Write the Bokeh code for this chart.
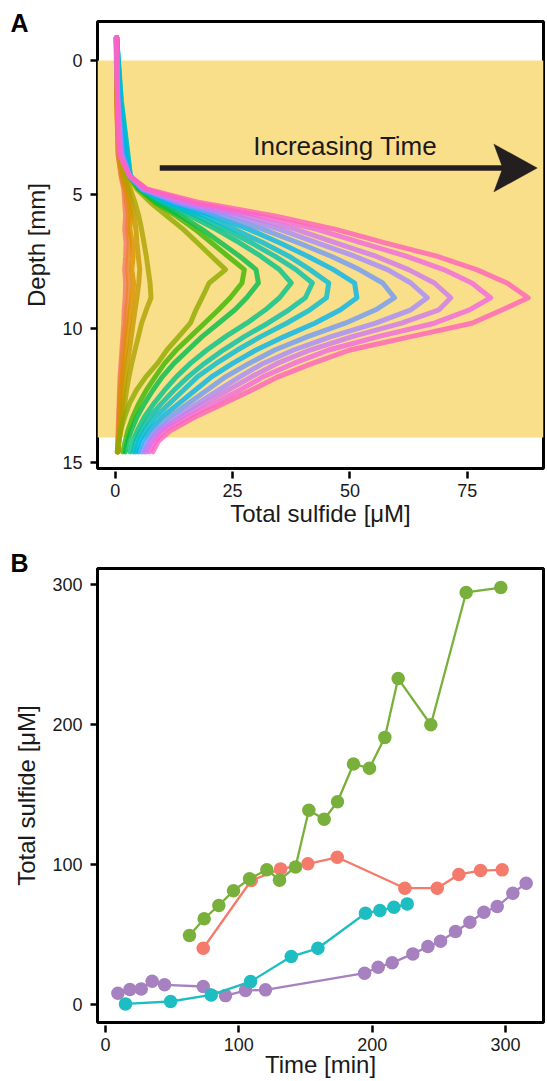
from bokeh.plotting import figure
from bokeh.models import Range1d, BoxAnnotation, Label, FixedTicker, Arrow, PolyAnnotation, Title
from bokeh.layouts import column
from bokeh.embed import file_html
from bokeh.resources import INLINE

FONT = "Liberation Sans"
TXT = "#1a1a1a"

# ---------------- Panel A: sulfide depth profiles ----------------
DEPTH_MM = [-0.85, 1.5, 3.5, 4.3, 4.8, 5.3, 5.8, 6.3, 6.8, 7.3, 7.8, 8.3, 8.85,
            9.3, 9.8, 10.3, 10.8, 11.3, 11.8, 12.3, 12.8, 13.3, 13.8, 14.2, 14.6]

PROF_01 = [0.2, 0.3, 0.6, 1.2, 1.8, 2.0, 2.2, 2.0, 2.3, 2.2, 2.0, 2.2, 2.1, 1.9, 1.8, 1.6, 1.4, 1.2, 1.0, 0.9, 0.8, 0.7, 0.6, 0.5, 0.5]
PROF_02 = [0.2, 0.3, 0.6, 1.3, 2.0, 2.4, 2.8, 2.6, 3.0, 2.8, 2.6, 2.9, 2.7, 2.4, 2.2, 1.9, 1.6, 1.4, 1.2, 1.0, 0.9, 0.8, 0.7, 0.6, 0.5]
PROF_03 = [0.2, 0.3, 0.7, 1.5, 2.3, 3.0, 3.3, 3.1, 3.6, 3.8, 3.5, 3.9, 3.6, 3.2, 2.9, 2.5, 2.2, 1.8, 1.5, 1.2, 1.0, 0.9, 0.8, 0.7, 0.6]
PROF_04 = [0.2, 0.4, 0.8, 1.8, 2.8, 3.4, 4.0, 4.4, 4.6, 4.9, 5.2, 5.0, 4.6, 4.2, 3.8, 3.4, 3.0, 2.5, 2.1, 1.8, 1.5, 1.2, 1.0, 0.8, 0.6]
PROF_05 = [0.2, 0.4, 0.9, 2.0, 3.2, 4.2, 5.0, 5.6, 6.1, 6.6, 7.0, 7.4, 7.6, 6.6, 5.6, 4.9, 4.2, 3.5, 2.9, 2.4, 2.0, 1.6, 1.2, 0.8, 0.4]
PROF_06 = [0.3, 0.6, 1.5, 2.6, 4.6, 7.5, 11.0, 14.5, 17.5, 20.5, 23.5, 20.0, 18.5, 17.2, 16.0, 13.5, 11.0, 9.0, 6.5, 4.5, 3.0, 2.0, 1.1, 0.7, 0.4]
PROF_07 = [0.3, 0.8, 2.0, 3.0, 5.0, 8.5, 13.0, 17.0, 20.5, 24.0, 27.5, 27.0, 24.5, 22.0, 19.0, 16.0, 13.0, 10.5, 8.5, 6.6, 5.0, 3.7, 2.7, 2.1, 1.6]
PROF_08 = [0.3, 0.8, 2.0, 3.0, 5.2, 9.0, 14.0, 18.5, 22.5, 26.5, 30.0, 30.5, 28.0, 25.5, 22.0, 18.5, 15.5, 12.5, 10.0, 8.0, 6.2, 4.6, 3.4, 2.6, 2.1]
PROF_09 = [0.3, 1.1, 2.4, 3.0, 5.4, 10.0, 16.0, 21.5, 26.5, 31.0, 35.0, 37.5, 35.0, 32.0, 28.0, 23.5, 19.5, 16.0, 13.0, 10.5, 8.2, 6.2, 4.7, 3.7, 3.1]
PROF_10 = [0.3, 1.3, 2.7, 3.2, 5.5, 10.5, 17.5, 23.5, 29.0, 34.0, 38.5, 42.0, 40.5, 37.0, 32.5, 27.5, 23.0, 19.0, 15.5, 12.5, 9.8, 7.3, 5.5, 4.4, 3.8]
PROF_11 = [0.3, 1.2, 2.6, 3.2, 5.6, 11.0, 19.0, 25.5, 31.5, 37.0, 41.5, 45.5, 45.0, 41.5, 36.5, 31.0, 26.0, 21.5, 17.5, 14.5, 11.5, 8.5, 6.3, 5.0, 4.3]
PROF_12 = [0.2, 0.8, 2.0, 3.2, 5.8, 12.0, 21.0, 28.5, 35.0, 41.0, 46.5, 51.0, 51.5, 48.0, 42.5, 36.0, 30.0, 25.0, 20.5, 17.0, 13.5, 10.0, 7.3, 5.8, 4.9]
PROF_13 = [0.2, 0.6, 1.5, 3.0, 5.8, 13.0, 23.0, 31.5, 39.0, 46.0, 52.0, 57.0, 59.5, 55.5, 49.0, 41.0, 34.0, 28.5, 23.5, 19.5, 15.5, 11.5, 8.3, 6.7, 5.6]
PROF_14 = [0.2, 0.5, 1.2, 3.0, 6.0, 14.0, 25.5, 35.0, 43.0, 51.0, 58.0, 63.0, 66.5, 63.0, 55.5, 46.0, 38.0, 31.5, 26.5, 22.0, 17.5, 13.0, 9.2, 7.3, 6.2]
PROF_15 = [0.2, 0.5, 1.2, 3.0, 6.2, 15.0, 28.0, 38.5, 47.0, 55.5, 62.5, 68.0, 71.5, 69.0, 61.0, 50.5, 41.5, 34.5, 29.0, 24.0, 19.0, 14.0, 9.7, 7.8, 6.6]
PROF_16 = [0.3, 0.5, 1.0, 3.0, 6.5, 16.5, 31.0, 43.0, 52.5, 62.0, 70.0, 76.0, 80.0, 75.5, 68.0, 56.0, 45.5, 38.0, 31.5, 26.5, 21.0, 15.5, 10.5, 8.5, 7.2]
PROF_17 = [0.3, 0.4, 0.8, 3.0, 6.8, 18.0, 34.0, 47.0, 57.5, 68.5, 77.0, 83.5, 88.0, 82.5, 76.0, 63.0, 50.0, 42.0, 34.7, 29.0, 23.0, 17.0, 11.8, 9.2, 8.0]

PROFILES = [PROF_01, PROF_02, PROF_03, PROF_04, PROF_05, PROF_06, PROF_07, PROF_08, PROF_09,
            PROF_10, PROF_11, PROF_12, PROF_13, PROF_14, PROF_15, PROF_16, PROF_17]
PROFILE_COLORS = ["#F8766D", "#EA8331", "#DB8E00", "#C69900", "#AEA200", "#8FAA00", "#39B600",
                  "#00BB4E", "#00C08B", "#00C1AA", "#00BCD8", "#00B4EF", "#6F9AF8", "#A58AFF",
                  "#D078F0", "#F066E0", "#FF62BC"]

SEDIMENT_TOP = 0.0
SEDIMENT_BOTTOM = 14.06
A_XTICKS = [0, 25, 50, 75]
A_YTICKS = [0, 5, 10, 15]

# ---------------- Panel B: sulfide over time ----------------
TIME_RED = [73.3, 109.3, 131.3, 151.8, 173.8, 224.5, 248.8, 265.0, 281.3, 297.5]
SULF_RED = [40.4, 88.8, 97.1, 100.7, 105.4, 83.3, 83.3, 93.1, 95.9, 96.4]

TIME_GREEN = [63, 74, 85, 96, 108, 121, 130.5, 142.5, 152.5, 164, 174, 186, 198, 209.5, 219.5, 244, 270.5, 296.5]
SULF_GREEN = [49.5, 61.5, 71, 81.5, 90, 96.5, 89, 98.5, 139, 132.5, 145, 172, 169, 191, 233, 200, 294.5, 298]

TIME_CYAN = [15, 48.8, 79.3, 108.8, 139.3, 159.3, 195, 205.8, 216.3, 226.3]
SULF_CYAN = [0.7, 2.4, 7.1, 16.6, 34.5, 40.4, 65.4, 67.4, 69.7, 72.1]

TIME_PURPLE = [9.3, 18.3, 26.8, 35, 44.3, 73.3, 90, 105, 120, 194.3, 204.5, 215, 230.5, 241.8,
               251.3, 262.5, 273.3, 283.8, 293.8, 305.5, 315.5]
SULF_PURPLE = [8.3, 10.9, 11.4, 16.9, 14.3, 13.1, 6.6, 10.2, 10.7, 22.6, 26.9, 30, 36.4, 41.6,
               45.4, 52.4, 59, 66.1, 70.2, 79.7, 86.9]

B_TICKS = [0, 100, 200, 300]


def style(p, xticks, yticks, xlabel, ylabel, xlab_standoff, xtitle_standoff):
    p.xaxis.ticker = FixedTicker(ticks=xticks)
    p.yaxis.ticker = FixedTicker(ticks=yticks)
    p.xaxis.axis_label = xlabel
    p.yaxis.axis_label = ylabel
    for ax in (p.xaxis[0], p.yaxis[0]):
        ax.axis_line_color = None
        ax.major_tick_line_color = "black"
        ax.major_tick_line_width = 2.5
        ax.minor_tick_line_color = None
        ax.major_label_text_font = FONT
        ax.major_label_text_font_size = "18px"
        ax.major_label_text_color = TXT
        ax.axis_label_text_font = FONT
        ax.axis_label_text_font_size = "24px"
        ax.axis_label_text_font_style = "normal"
        ax.axis_label_text_color = TXT
    xa = p.xaxis[0]
    xa.major_tick_in = -3
    xa.major_tick_out = 10
    xa.major_label_standoff = xlab_standoff
    xa.axis_label_standoff = xtitle_standoff
    ya = p.yaxis[0]
    ya.major_tick_in = 0
    ya.major_tick_out = 7
    ya.major_label_standoff = 8
    ya.axis_label_standoff = 9
    p.xgrid.visible = False
    p.ygrid.visible = False
    p.outline_line_color = "black"
    p.outline_line_width = 3
    p.outline_line_alpha = 1
    p.background_fill_color = "white"
    p.border_fill_color = "white"


def panel_tag(p, letter, standoff):
    p.add_layout(Title(text=letter, align="left", offset=-87, vertical_align="bottom",
                       standoff=standoff, text_font=FONT, text_font_size="25px",
                       text_font_style="bold", text_color="black"), "above")


# ---------- Figure A ----------
AX0, AX1 = -3.80, 91.27
AY0, AY1 = 15.22, -1.455
pA = figure(width=547, height=538, x_range=Range1d(AX0, AX1), y_range=Range1d(AY0, AY1),
            output_backend="svg", toolbar_location=None,
            min_border_left=97, min_border_right=0, min_border_top=21, min_border_bottom=70)
style(pA, A_XTICKS, A_YTICKS, "Total sulfide [μM]", "Depth [mm]", 5, 0)
panel_tag(pA, "A", -30)

pA.add_layout(BoxAnnotation(top=SEDIMENT_TOP, bottom=SEDIMENT_BOTTOM, fill_color="#FADF8A",
                            fill_alpha=1, line_color=None, level="underlay"))

for prof, col in zip(PROFILES, PROFILE_COLORS):
    pA.line(prof, DEPTH_MM, line_color=col, line_width=5, line_alpha=0.8,
            line_join="round", line_cap="round")

# arrow annotation (pixel geometry converted to data units)
px_x = (AX1 - AX0) / 450.0
px_y = (AY0 - AY1) / 447.0
arrow_y = 4.01
tip_x = 89.96
stem_start = 9.47
head_len, head_half, notch = 44, 24, 9
pA.add_layout(Arrow(end=None, x_start=stem_start, y_start=arrow_y,
                    x_end=tip_x - (head_len - notch - 2) * px_x, y_end=arrow_y,
                    line_color="#231F20", line_width=5.5))
pA.add_layout(PolyAnnotation(
    xs=[tip_x, tip_x - head_len * px_x, tip_x - (head_len - notch) * px_x, tip_x - head_len * px_x],
    ys=[arrow_y, arrow_y - head_half * px_y, arrow_y, arrow_y + head_half * px_y],
    fill_color="#231F20", fill_alpha=1, line_color="#231F20", line_width=1))
pA.add_layout(Label(x=49.0, y=3.545 - 10 * px_y, text="Increasing Time", text_align="center",
                    text_baseline="alphabetic", text_font=FONT, text_font_size="26px",
                    text_color=TXT))

# ---------- Figure B ----------
BX0, BX1 = -6.0, 328.5
BY0, BY1 = -12.6, 311.6
pB = figure(width=547, height=543, x_range=Range1d(BX0, BX1), y_range=Range1d(BY0, BY1),
            output_backend="svg", toolbar_location=None,
            min_border_left=97, min_border_right=4, min_border_top=30, min_border_bottom=59)
style(pB, B_TICKS, B_TICKS, "Time [min]", "Total sulfide [μM]", 5, -3)
panel_tag(pB, "B", -16)

series = [
    (TIME_PURPLE, SULF_PURPLE, "#A680BF"),
    (TIME_CYAN, SULF_CYAN, "#1DBDC2"),
    (TIME_RED, SULF_RED, "#F47A6C"),
    (TIME_GREEN, SULF_GREEN, "#79B03C"),
]
for t, s, col in series:
    pB.line(t, s, line_color=col, line_width=2.3)
    pB.scatter(t, s, size=13.5, fill_color=col, line_color=col, line_width=0)

layout = column(pA, pB)
open("out.html", "w").write(file_html(layout, INLINE))
